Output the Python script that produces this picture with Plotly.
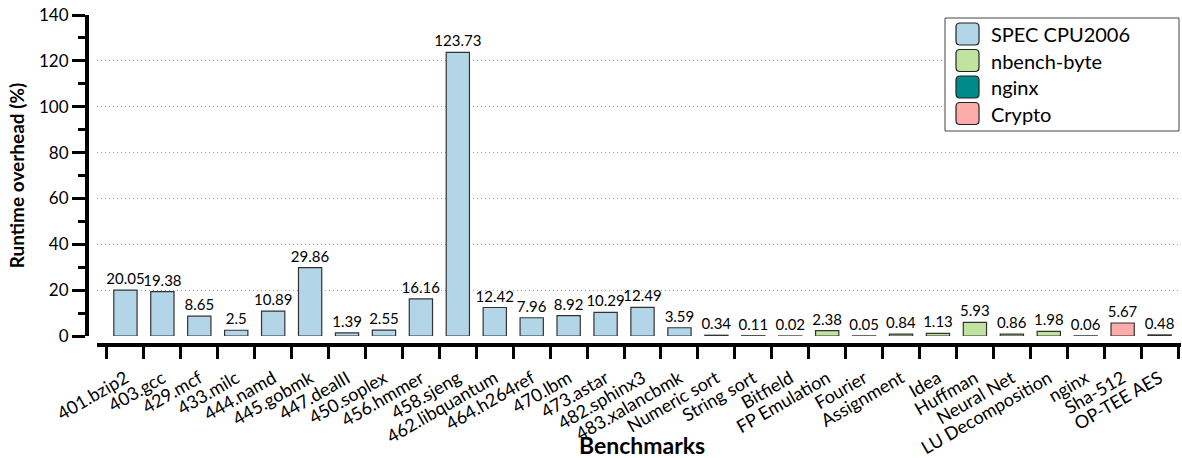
import plotly.graph_objects as go

# Benchmark groups and their runtime overheads (%)
spec_names = ["401.bzip2", "403.gcc", "429.mcf", "433.milc", "444.namd", "445.gobmk",
              "447.dealII", "450.soplex", "456.hmmer", "458.sjeng", "462.libquantum",
              "464.h264ref", "470.lbm", "473.astar", "482.sphinx3", "483.xalancbmk"]
spec_vals = [20.05, 19.38, 8.65, 2.5, 10.89, 29.86, 1.39, 2.55, 16.16, 123.73,
             12.42, 7.96, 8.92, 10.29, 12.49, 3.59]

nbench_names = ["Numeric sort", "String sort", "Bitfield", "FP Emulation", "Fourier",
                "Assignment", "Idea", "Huffman", "Neural Net", "LU Decomposition"]
nbench_vals = [0.34, 0.11, 0.02, 2.38, 0.05, 0.84, 1.13, 5.93, 0.86, 1.98]

nginx_names = ["nginx"]
nginx_vals = [0.06]

crypto_names = ["Sha-512", "OP-TEE AES"]
crypto_vals = [5.67, 0.48]

y_ticks = [0, 20, 40, 60, 80, 100, 120, 140]

groups = [
    ("SPEC CPU2006", spec_names, spec_vals, "#b3d5e8"),
    ("nbench-byte", nbench_names, nbench_vals, "#c0e3a0"),
    ("nginx", nginx_names, nginx_vals, "#008b8b"),
    ("Crypto", crypto_names, crypto_vals, "#fdabab"),
]

all_names = spec_names + nbench_names + nginx_names + crypto_names
FONT = "Lato, 'Open Sans', sans-serif"

W, H = 1182, 458
ML, MR, MT, MB = 87, 1, 15, 113
PW, PH = W - ML - MR, H - MT - MB


def px_x(px):
    return (px - ML) / PW


def px_y(py):
    return (H - MB - py) / PH


fig = go.Figure()
for label, names, vals, color in groups:
    fig.add_trace(go.Bar(
        x=names, y=vals, name=label,
        marker=dict(color=color, line=dict(color="#333333", width=1.2)),
        width=0.63,
        text=[str(v) for v in vals],
        textposition="outside",
        constraintext="none",
        textfont=dict(size=15, color="black", family=FONT),
        cliponaxis=False,
        showlegend=False,
    ))

fig.update_layout(
    width=W, height=H,
    margin=dict(l=ML, r=MR, t=MT, b=MB),
    plot_bgcolor="white", paper_bgcolor="white",
    barmode="overlay",
    font=dict(family=FONT, color="black"),
)

fig.update_xaxes(
    domain=[10 / PW, 1],
    anchor="free", position=0,
    type="category", categoryorder="array", categoryarray=all_names,
    range=[-0.77, 28.58],
    tickson="boundaries",
    showline=True, linewidth=4, linecolor="black",
    ticks="outside", ticklen=12, tickwidth=3, tickcolor="black",
    tickangle=-30,
    ticklabelstandoff=14,
    tickfont=dict(size=18, family=FONT),
    showgrid=False, zeroline=False,
    automargin=False,
)

fig.update_yaxes(
    domain=[9 / PH, 1],
    anchor="free", position=0,
    range=[0, 140],
    tickvals=y_ticks,
    showline=True, linewidth=4, linecolor="black",
    ticks="outside", ticklen=13, tickwidth=3, tickcolor="black",
    tickfont=dict(size=17, family=FONT),
    minor=dict(dtick=10, ticks="outside", ticklen=7, tickwidth=3, tickcolor="black", showgrid=False),
    showgrid=True, gridcolor="#a0a0a0", griddash="1px,3px", gridwidth=1,
    zeroline=False,
    automargin=False,
    title=dict(text="<b>Runtime overhead (%)</b>", font=dict(size=19, family=FONT), standoff=8),
)

fig.add_annotation(
    text="<b>Benchmarks</b>", xref="paper", yref="paper",
    x=px_x(642), y=px_y(445), yanchor="middle", xanchor="center",
    showarrow=False, font=dict(size=23, family=FONT, color="black"),
)

# Legend: framed box with rounded colour swatches
fig.add_shape(type="rect", xref="paper", yref="paper",
              x0=px_x(945), x1=px_x(1179), y0=px_y(131), y1=px_y(18),
              line=dict(color="#444444", width=1), fillcolor="white", layer="above")


def rounded_rect(x0, y0, x1, y1, r):
    ax0, ax1 = px_x(x0), px_x(x1)
    ay0, ay1 = px_y(y1), px_y(y0)
    rx, ry = r / PW, r / PH
    return (f"M{ax0 + rx},{ay0} L{ax1 - rx},{ay0} Q{ax1},{ay0} {ax1},{ay0 + ry} "
            f"L{ax1},{ay1 - ry} Q{ax1},{ay1} {ax1 - rx},{ay1} "
            f"L{ax0 + rx},{ay1} Q{ax0},{ay1} {ax0},{ay1 - ry} "
            f"L{ax0},{ay0 + ry} Q{ax0},{ay0} {ax0 + rx},{ay0} Z")


legend_centers = [34, 60.5, 87, 113.5]
for (label, _, _, color), cy in zip(groups, legend_centers):
    fig.add_shape(type="path", xref="paper", yref="paper",
                  path=rounded_rect(956, cy - 11, 979, cy + 11, 4),
                  line=dict(color="#222222", width=1.2), fillcolor=color, layer="above")
    fig.add_annotation(text=label, xref="paper", yref="paper",
                       x=px_x(989), y=px_y(cy), xanchor="left", yanchor="middle",
                       showarrow=False, font=dict(size=20, family=FONT, color="black"))

fig.write_html("out.html")
